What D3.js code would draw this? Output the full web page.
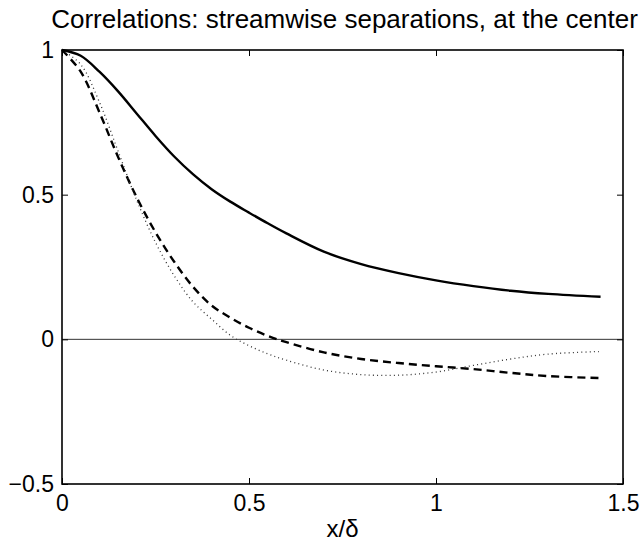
<!DOCTYPE html>
<html>
<head>
<meta charset="utf-8">
<script src="https://cdn.jsdelivr.net/npm/d3@7"></script>
<style>
  body { margin: 0; background: #fff; }
  text { font-family: "Liberation Sans", Arial, Helvetica, sans-serif; fill: #000; }
</style>
</head>
<body>
<script>
// separations x/delta
var xSep = [0, 0.05, 0.1, 0.15, 0.2, 0.25, 0.3, 0.35, 0.4, 0.45, 0.5, 0.55, 0.6, 0.7, 0.8, 0.9, 1.0, 1.1, 1.2, 1.3, 1.44];

// correlation curves
var corrSolid  = [1.0, 0.98, 0.925, 0.857, 0.78, 0.703, 0.632, 0.571, 0.519, 0.476, 0.438, 0.401, 0.366, 0.303, 0.26, 0.229, 0.204, 0.184, 0.168, 0.157, 0.147];
var corrDashed = [1.0, 0.925, 0.785, 0.63, 0.49, 0.37, 0.268, 0.182, 0.117, 0.075, 0.04, 0.012, -0.01, -0.045, -0.068, -0.082, -0.093, -0.103, -0.116, -0.127, -0.134];
var corrDotted = [1.0, 0.95, 0.82, 0.65, 0.48, 0.335, 0.22, 0.13, 0.07, 0.014, -0.022, -0.05, -0.072, -0.106, -0.122, -0.124, -0.113, -0.09, -0.068, -0.051, -0.042];

var xTicks = [0, 0.5, 1, 1.5],
    xTickLabels = ["0", "0.5", "1", "1.5"];
var yTicks = [-0.5, 0, 0.5, 1],
    yTickLabels = ["\u22120.5", "0", "0.5", "1"];

var width = 644,
    height = 543;

var margin = {left: 62, right: 21, top: 50, bottom: 59};

var svg = d3.select("body")
    .append("svg")
    .attr("width", width)
    .attr("height", height);

var x = d3.scaleLinear()
    .domain([0, 1.5])
    .range([margin.left, width - margin.right]);

var y = d3.scaleLinear()
    .domain([-0.5, 1])
    .range([height - margin.bottom, margin.top]);

// zero line
svg.append("line")
    .attr("x1", x(0)).attr("x2", x(1.5))
    .attr("y1", y(0)).attr("y2", y(0))
    .attr("stroke", "#333")
    .attr("stroke-width", 1);

var line = d3.line()
    .x(function (d) { return x(d[0]); })
    .y(function (d) { return y(d[1]); })
    .curve(d3.curveCatmullRom.alpha(0.5));

var series = [
    {vals: corrSolid, dash: null, w: 2.4, col: "#000"},
    {vals: corrDashed, dash: "8,5", w: 2.4, col: "#000"},
    {vals: corrDotted, dash: "1,3.2", w: 1.3, col: "#333"}
];

series.forEach(function (s) {
    svg.append("path")
        .datum(xSep.map(function (v, i) { return [v, s.vals[i]]; }))
        .attr("fill", "none")
        .attr("stroke", s.col)
        .attr("stroke-width", s.w)
        .attr("stroke-dasharray", s.dash)
        .attr("d", line);
});

// axes (ticks pointing inward)
var xAxis = d3.axisBottom(x)
    .tickValues(xTicks)
    .tickFormat(function (d, i) { return xTickLabels[i]; })
    .tickSizeInner(-6).tickSizeOuter(0).tickPadding(11);

var yAxis = d3.axisLeft(y)
    .tickValues(yTicks)
    .tickFormat(function (d, i) { return yTickLabels[i]; })
    .tickSizeInner(-6).tickSizeOuter(0).tickPadding(8);

svg.append("g")
    .attr("transform", "translate(0," + (height - margin.bottom) + ")")
    .call(xAxis);
svg.append("g")
    .attr("transform", "translate(" + margin.left + ",0)")
    .call(yAxis);

// mirrored ticks on top and right
svg.append("g")
    .attr("transform", "translate(0," + margin.top + ")")
    .call(d3.axisTop(x).tickValues(xTicks).tickFormat("").tickSizeInner(-6).tickSizeOuter(0));
svg.append("g")
    .attr("transform", "translate(" + (width - margin.right) + ",0)")
    .call(d3.axisRight(y).tickValues(yTicks).tickFormat("").tickSizeInner(-6).tickSizeOuter(0));

svg.selectAll(".domain").remove();
svg.selectAll(".tick line").attr("stroke", "#000").attr("stroke-width", 1);
svg.selectAll(".tick text")
    .attr("font-size", 23)
    .attr("font-family", "Liberation Sans, Arial, sans-serif");

// frame
svg.append("rect")
    .attr("x", x(0)).attr("y", y(1))
    .attr("width", x(1.5) - x(0))
    .attr("height", y(-0.5) - y(1))
    .attr("fill", "none")
    .attr("stroke", "#000")
    .attr("stroke-width", 1.6);

svg.append("text")
    .attr("x", (x(0) + x(1.5)) / 2 + 2)
    .attr("y", 28)
    .attr("text-anchor", "middle")
    .attr("font-size", 26)
    .text("Correlations: streamwise separations, at the center");

svg.append("text")
    .attr("x", (x(0) + x(1.5)) / 2)
    .attr("y", 537)
    .attr("text-anchor", "middle")
    .attr("font-size", 24)
    .text("x/\u03b4");
</script>
</body>
</html>
